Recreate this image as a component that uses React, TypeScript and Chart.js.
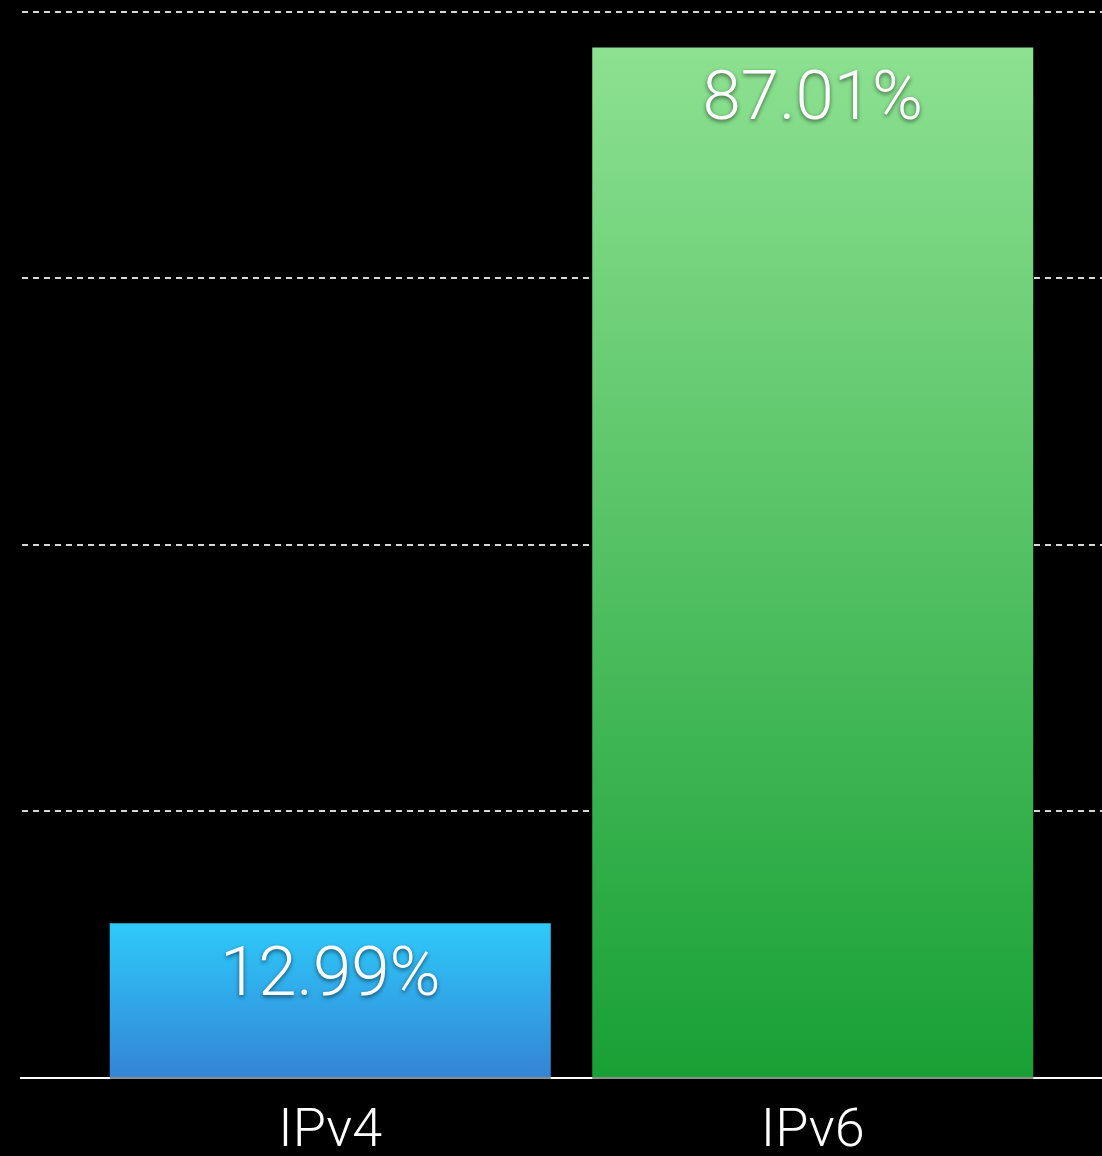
import React, { useEffect, useRef } from "react";
import { Chart, registerables } from "chart.js";

Chart.register(...registerables);

const categories = ["IPv4", "IPv6"];
const shares = [12.99, 87.01];
const valueLabels = ["12.99%", "87.01%"];
const gradientTop = ["#2ecafa", "#8de191"];
const gradientBottom = ["#3484d6", "#18a035"];
const yMax = 90;
const yStep = 22.5;

const FONT = "Roboto";

const gridPlugin = {
  id: "extendedGrid",
  beforeDatasetsDraw(chart: any) {
    const { ctx } = chart;
    const yScale = chart.scales.y;
    ctx.save();
    ctx.strokeStyle = "#d8d8d8";
    ctx.lineWidth = 2;
    ctx.setLineDash([6, 5]);
    yScale.ticks.forEach((t: any) => {
      if (t.value === 0) return;
      const y = Math.round(yScale.getPixelForValue(t.value));
      ctx.beginPath();
      ctx.moveTo(22, y);
      ctx.lineTo(chart.width, y);
      ctx.stroke();
    });
    ctx.restore();
  },
  afterDatasetsDraw(chart: any) {
    const { ctx } = chart;
    const yScale = chart.scales.y;
    const y0 = yScale.getPixelForValue(0);
    ctx.save();
    ctx.setLineDash([]);
    ctx.lineWidth = 2;
    ctx.strokeStyle = "#ffffff";
    ctx.beginPath();
    ctx.moveTo(20, y0 + 1);
    ctx.lineTo(chart.width, y0 + 1);
    ctx.stroke();
    const meta = chart.getDatasetMeta(0);
    ctx.strokeStyle = "#8c8c8c";
    meta.data.forEach((bar: any) => {
      ctx.beginPath();
      ctx.moveTo(bar.x - bar.width / 2, y0 + 1);
      ctx.lineTo(bar.x + bar.width / 2, y0 + 1);
      ctx.stroke();
    });
    // value labels
    ctx.font = `300 69px ${FONT}`;
    ctx.textAlign = "center";
    ctx.textBaseline = "alphabetic";
    ctx.fillStyle = "#ffffff";
    ctx.shadowColor = "rgba(0,0,0,0.55)";
    ctx.shadowBlur = 4;
    ctx.shadowOffsetX = 0;
    ctx.shadowOffsetY = 2;
    meta.data.forEach((bar: any, i: number) => {
      ctx.fillText(valueLabels[i], bar.x, bar.y + 72);
    });
    ctx.restore();
  },
};

export default function App() {
  const ref = useRef<HTMLCanvasElement>(null);
  useEffect(() => {
    document.body.style.margin = "0";
    document.body.style.background = "#000";
    const canvas = ref.current!;
    const chart = new Chart(canvas, {
      type: "bar",
      data: {
        labels: categories,
        datasets: [
          {
            data: shares,
            borderWidth: 0,
            categoryPercentage: 1,
            barPercentage: 0.914,
            backgroundColor: (context: any) => {
              const c = context.chart;
              const i = context.dataIndex;
              if (!c.chartArea || !c.scales.y) return gradientTop[i];
              const yTop = c.scales.y.getPixelForValue(shares[i]);
              const yBot = c.scales.y.getPixelForValue(0);
              const g = c.ctx.createLinearGradient(0, yTop, 0, yBot);
              g.addColorStop(0, gradientTop[i]);
              g.addColorStop(1, gradientBottom[i]);
              return g;
            },
          },
        ],
      },
      options: {
        responsive: false,
        animation: false,
        layout: { padding: { left: 89, right: 48, top: 12, bottom: -31 } },
        plugins: { legend: { display: false }, tooltip: { enabled: false } },
        scales: {
          x: {
            grid: { display: false, drawTicks: false },
            border: { display: false },
            ticks: {
              color: "#ffffff",
              padding: 28,
              font: { family: FONT, size: 54, weight: "300", lineHeight: 1 },
            },
          },
          y: {
            display: false,
            min: 0,
            max: yMax,
            ticks: { stepSize: yStep },
          },
        },
      },
      plugins: [gridPlugin],
    });
    return () => chart.destroy();
  }, []);
  return (
    <div style={{ width: 1102, height: 1156, background: "#000", overflow: "hidden" }}>
      <canvas ref={ref} width={1102} height={1156} style={{ display: "block" }} />
    </div>
  );
}
